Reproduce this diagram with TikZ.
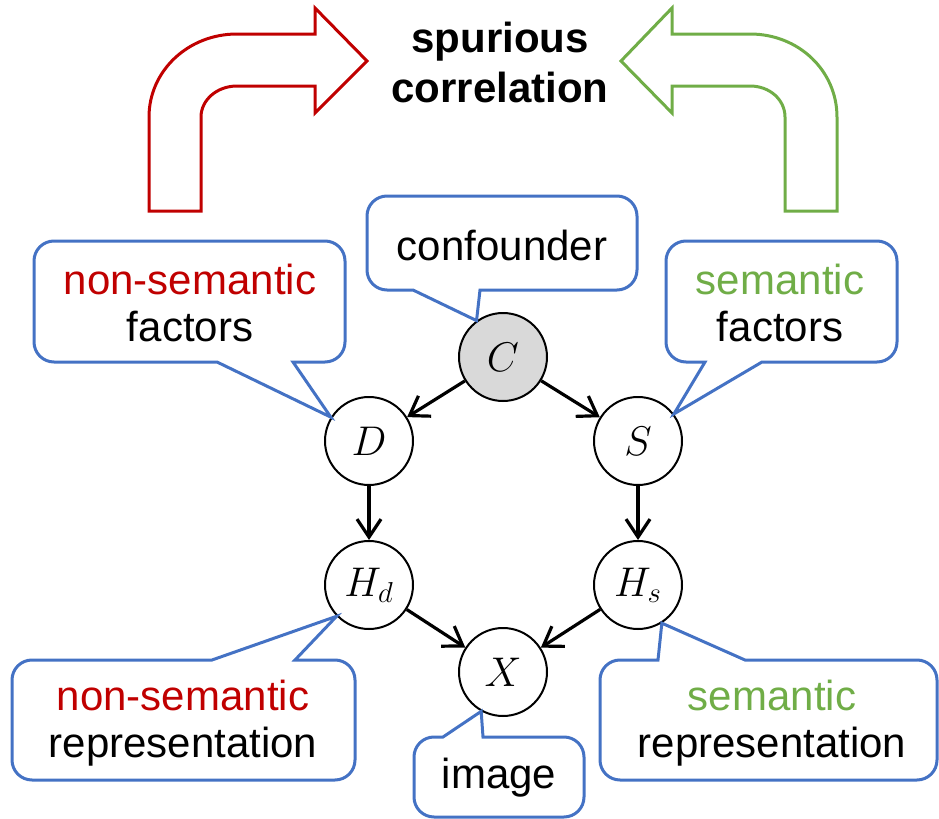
\documentclass[tikz,border=0pt]{standalone}
\usepackage{fontspec}
\setmainfont{Liberation Sans}
\usetikzlibrary{arrows.meta,positioning}
\definecolor{nsred}{HTML}{C00000}
\definecolor{sgreen}{HTML}{70AD47}
\definecolor{bblue}{HTML}{4472C4}
\tikzset{
    rv/.style={circle, draw, line width=1pt, minimum size=44pt, inner sep=0pt,
        font=\fontsize{21}{25}\selectfont},
    causal/.style={line width=1.6pt, -{Straight Barb[length=9pt,width=12pt]}},
    bubble/.style={draw=bblue, line width=1.5pt, line join=miter},
    lbl/.style={align=center, inner sep=0pt, font=\fontsize{21}{23.5}\selectfont},
    bigarrow/.style={line width=1.5pt, line join=miter}
}

\begin{document}
\begin{tikzpicture}[x=0.5pt, y=-0.5pt]
    \useasboundingbox (0,0) rectangle (939,819);
    \node[rv, fill=black!15] (C) at (503,357) {$C$};
    \node[rv] (D) at (369,441) {$D$};
    \node[rv] (S) at (638,441) {$S$};
    \node[rv] (Hd) at (369,585) {$H_d$};
    \node[rv] (Hs) at (638,585) {$H_s$};
    \node[rv] (X) at (503,672) {$X$};
    \draw[causal] (C) -- (D);
    \draw[causal] (C) -- (S);
    \draw[causal] (D) -- (Hd);
    \draw[causal] (S) -- (Hs);
    \draw[causal] (Hd) -- (X);
    \draw[causal] (Hs) -- (X);

    \draw[bigarrow, draw=nsred] (149,211) -- (149,117)
        .. controls (149,71) and (188,34) .. (237,34) -- (315,34) -- (315,8)
        -- (367,61) -- (315,113) -- (315,86) -- (237,86)
        .. controls (217,86) and (201,100) .. (201,117) -- (201,211) -- cycle;
    \draw[bigarrow, draw=sgreen] (837,211) -- (837,117)
        .. controls (837,71) and (799,34) .. (750,34) -- (672,34) -- (672,8)
        -- (621,61) -- (672,113) -- (672,86) -- (750,86)
        .. controls (770,86) and (785,100) .. (785,117) -- (785,211) -- cycle;
    \node[lbl, font=\fontsize{21}{25}\selectfont\bfseries] (spur) at (500,62)
        {spurious\\correlation};

    \draw[bubble] (480,290) [rounded corners=10pt] -- (637,290) -- (637,196)
        -- (367,196) -- (367,290) [sharp corners] -- (413,290) -- (C.126) -- cycle;
    \node[lbl] (conf) at (502,245) {confounder};
    \draw[bubble] (293,362) [rounded corners=10pt] -- (345,362) -- (345,241)
        -- (34,241) -- (34,362) [sharp corners] -- (217,362) -- (D.148) -- cycle;
    \node[lbl] (nsf) at (190,303) {\textcolor{nsred}{non-semantic}\\factors};
    \draw[bubble] (762,362) [rounded corners=10pt] -- (897,362) -- (897,241)
        -- (666,241) -- (666,362) [sharp corners] -- (705,362) -- (S.37) -- cycle;
    \node[lbl] (sf) at (780,303) {\textcolor{sgreen}{semantic}\\factors};
    \draw[bubble] (212,660) [rounded corners=10pt] -- (12,660) -- (12,780)
        -- (355,780) -- (355,660) [sharp corners] -- (295,660) -- (Hd.224) -- cycle;
    \node[lbl] (nsr) at (183,723) {\textcolor{nsred}{non-semantic}\\representation};
    \draw[bubble] (443,737) [rounded corners=10pt] -- (414,737) -- (414,817)
        -- (584,817) -- (584,737) [sharp corners] -- (483,737) -- (X.241) -- cycle;
    \node[lbl] (img) at (499,778) {image};
    \draw[bubble] (658,660) [rounded corners=10pt] -- (600,660) -- (600,780)
        -- (937,780) -- (937,660) [sharp corners] -- (745,660) -- (Hs.302) -- cycle;
    \node[lbl] (sr) at (772,723) {\textcolor{sgreen}{semantic}\\representation};
\end{tikzpicture}
\end{document}
